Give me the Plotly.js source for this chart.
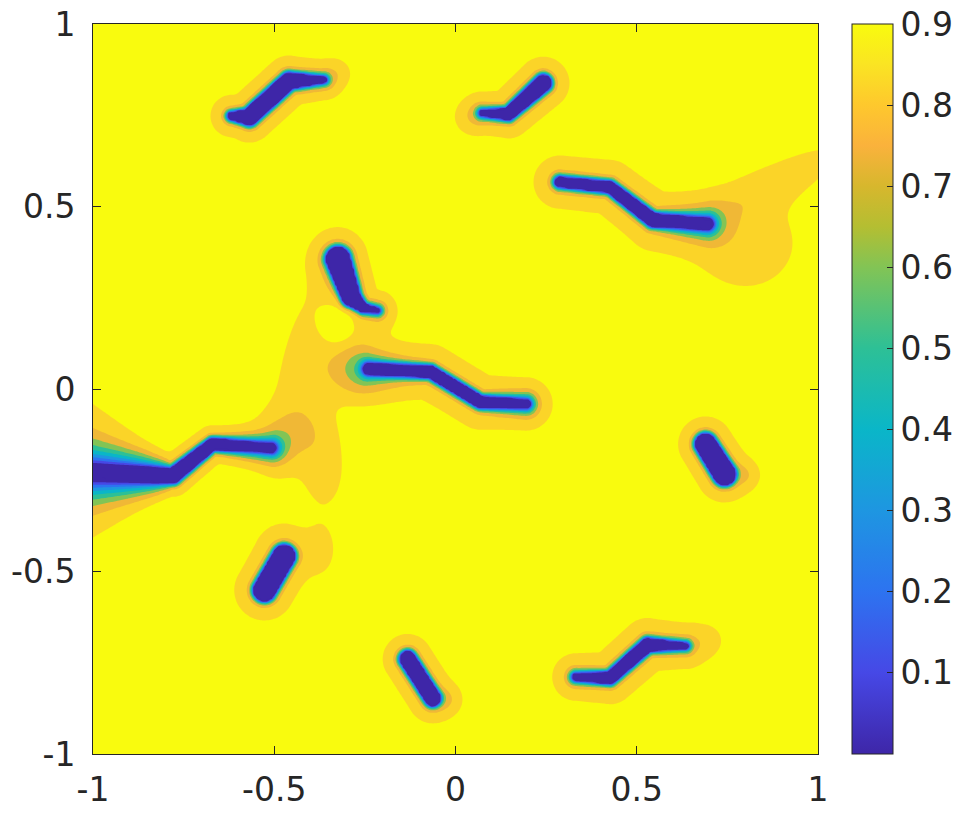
<!DOCTYPE html>
<html><head><meta charset="utf-8">
<script src="https://cdn.plot.ly/plotly-3.0.1.min.js"></script>
<style>html,body{margin:0;padding:0;background:#fff}</style>
</head><body><div id="plot" style="width:972px;height:819px"></div>
<script>
// ---- crack centre-lines (data units) ----
const crackX = [
  [-0.618,-0.569,-0.459,-0.363],
  [0.074,0.146,0.242],
  [0.288,0.426,0.544,0.695],
  [-0.324,-0.288,-0.255,-0.215],
  [-0.239,-0.069,0.069,0.195],
  [0.690,0.742],
  [-1.022,-0.780,-0.670,-0.508],
  [-0.473,-0.527],
  [-0.132,-0.063],
  [0.332,0.426,0.530,0.635]
];
const crackY = [
  [0.748,0.745,0.844,0.847],
  [0.756,0.753,0.838],
  [0.567,0.553,0.463,0.452],
  [0.356,0.252,0.222,0.215],
  [0.055,0.047,-0.036,-0.041],
  [-0.151,-0.233],
  [-0.228,-0.238,-0.151,-0.162],
  [-0.458,-0.551],
  [-0.740,-0.847],
  [-0.789,-0.792,-0.701,-0.704]
];
// half width of the fully damaged core
const crackW = [
  [0.010,0.022,0.022,0.007],
  [0.007,0.016,0.022],
  [0.013,0.015,0.018,0.012],
  [0.032,0.025,0.012,0.006],
  [0.012,0.016,0.016,0.010],
  [0.028,0.030],
  [0.014,0.020,0.016,0.009],
  [0.030,0.030],
  [0.021,0.021],
  [0.009,0.016,0.018,0.007]
];
// transition length of the phase field
const crackL = [
  [0.006,0.006,0.006,0.008],
  [0.008,0.006,0.006],
  [0.007,0.006,0.006,0.014],
  [0.007,0.006,0.006,0.008],
  [0.010,0.006,0.006,0.012],
  [0.006,0.006],
  [0.062,0.007,0.006,0.016],
  [0.006,0.006],
  [0.006,0.006],
  [0.008,0.006,0.006,0.008]
];
const haloA = [0.12,0.12,0.12,0.12,0.12,0.12,0.08,0.12,0.12,0.12];
const haloS = [0.036,0.038,0.045,0.036,0.045,0.036,0.035,0.040,0.036,0.042];
// broad low-damage regions and local bulges
const plumeX   = [0.80, 0.88, -0.41, -0.29, -0.327, -0.36, -0.25, -0.37, -0.45, 0.805, -0.019, 0.70, 0.036, -0.321];
const plumeY   = [0.40, 0.56,  0.05,  0.08,  0.184, -0.22,  0.04, -0.44, -0.12, -0.236, -0.852, -0.688, 0.742, 0.868];
const plumeSX  = [0.11, 0.16,  0.06,  0.05,  0.035,  0.04,  0.07,  0.03,  0.06, 0.025, 0.025, 0.03, 0.03, 0.025];
const plumeSY  = [0.10, 0.04,  0.20,  0.06,  0.045,  0.08,  0.05,  0.05,  0.05, 0.025, 0.025, 0.03, 0.03, 0.025];
const plumeAng = [0,    27,   -12,    0,     0,      0,     0,     0,     0,    0,     0,     0,    0,    0];
const plumeA   = [0.10, 0.10,  0.10,  0.09, -0.16,   0.09,  0.12,  0.08,  0.12, 0.08,  0.07,  0.07, 0.06, 0.06];
const background = 0.95;

const levels = [0,0.1,0.2,0.3,0.4,0.5,0.6,0.7,0.8,0.9];
const bandColors = ['rgb(62,38,168)','rgb(70,72,230)','rgb(45,115,240)','rgb(30,150,225)',
  'rgb(10,182,200)','rgb(45,192,150)','rgb(130,196,85)','rgb(240,184,54)','rgb(251,212,40)','rgb(249,251,14)'];
const parulaStops = [0,0.1,0.2,0.3,0.4,0.5,0.6,0.65,0.7,0.75,0.8,0.85,0.9];
const parulaColors = ['rgb(62,38,168)','rgb(70,72,230)','rgb(45,115,240)','rgb(30,150,225)',
  'rgb(10,182,200)','rgb(45,192,150)','rgb(130,196,85)','rgb(180,190,50)','rgb(215,183,45)',
  'rgb(250,178,60)','rgb(254,200,45)','rgb(250,228,35)','rgb(249,251,14)'];
const cbTicks = [0.1,0.2,0.3,0.4,0.5,0.6,0.7,0.8,0.9];
const axTicks = [-1,-0.5,0,0.5,1];
const axTickText = ['-1','-0.5','0','0.5','1'];

// ---- build field ----
const N = 321;
const gx = [], gy = [];
for (let i = 0; i < N; i++) { gx.push(-1 + 2*i/(N-1)); gy.push(-1 + 2*i/(N-1)); }
const Z = [];
for (let j = 0; j < N; j++) {
  const y = gy[j]; const row = [];
  for (let i = 0; i < N; i++) {
    const x = gx[i];
    let zc = background, red = 0;
    for (let c = 0; c < crackX.length; c++) {
      const X = crackX[c], Y = crackY[c], W = crackW[c], L = crackL[c];
      let best = Infinity, bestD = Infinity;
      for (let s = 0; s < X.length - 1; s++) {
        const ax = X[s], ay = Y[s], dx = X[s+1]-ax, dy = Y[s+1]-ay;
        let t = ((x-ax)*dx + (y-ay)*dy) / (dx*dx + dy*dy);
        t = Math.max(0, Math.min(1, t));
        const dist = Math.hypot(x - (ax + t*dx), y - (ay + t*dy));
        const w = W[s] + t*(W[s+1]-W[s]);
        const lam = L[s] + t*(L[s+1]-L[s]);
        const d = Math.max(dist - w, 0);
        if (d/lam < best) best = d/lam;
        if (d < bestD) bestD = d;
      }
      const z = background*(1 - Math.exp(-best));
      if (z < zc) zc = z;
      red += haloA[c]*Math.exp(-0.5*Math.pow(bestD/haloS[c], 2));
    }
    for (let p = 0; p < plumeX.length; p++) {
      const a = plumeAng[p]*Math.PI/180;
      const dx = x - plumeX[p], dy = y - plumeY[p];
      const u = dx*Math.cos(a) + dy*Math.sin(a);
      const v = -dx*Math.sin(a) + dy*Math.cos(a);
      red += plumeA[p]*Math.exp(-0.5*(u*u/(plumeSX[p]*plumeSX[p]) + v*v/(plumeSY[p]*plumeSY[p])));
    }
    row.push(Math.max(0, Math.min(background, zc - red)));
  }
  Z.push(row);
}

// step colour scale, strictly increasing stops (plotly samples each band at level+size/2)
const bandScale = [[0, bandColors[0]]];
for (let k = 0; k < levels.length; k++) {
  if (k > 0) bandScale.push([Math.round((0.05 + 0.1*k + 0.001)*10000)/10000, bandColors[k]]);
  const hi = k === levels.length-1 ? 1 : Math.round((0.15 + 0.1*k)*10000)/10000;
  bandScale.push([hi, bandColors[k]]);
}

const smoothScale = parulaStops.map((s, k) => [Math.round(s/0.9*10000)/10000, parulaColors[k]]);
smoothScale[smoothScale.length-1][0] = 1;

const fontC = '#262626';
const fontF = 'DejaVu Sans, Liberation Sans, sans-serif';
const traces = [
  {type:'contour', x:gx, y:gy, z:Z, autocontour:false, autocolorscale:false,
   contours:{start:0, end:0.9, size:0.1, coloring:'fill', showlines:false},
   line:{width:0}, colorscale:bandScale, showscale:false, hoverinfo:'skip'},
  {type:'heatmap', x:[5,6], y:[5,6], z:[[0,0.3],[0.6,0.9]], zmin:0, zmax:0.9,
   colorscale:smoothScale, showscale:true, hoverinfo:'skip',
   colorbar:{x:(855-93)/728, xanchor:'left', y:0.5, yanchor:'middle', len:1, lenmode:'fraction',
     thickness:41, thicknessmode:'pixels', xpad:0, ypad:0, outlinecolor:fontC, outlinewidth:1,
     tickmode:'array', tickvals:cbTicks, ticktext:cbTicks.map(String), ticks:'inside', ticklen:6,
     tickcolor:fontC, tickfont:{family:fontF, size:33, color:fontC}}}
];
const axisCommon = {range:[-1,1], tickmode:'array', tickvals:axTicks, ticktext:axTickText,
  ticks:'inside', ticklen:8, tickcolor:fontC, showline:true, linecolor:fontC, linewidth:1, mirror:'ticks',
  showgrid:false, zeroline:false, tickfont:{family:fontF, size:33, color:fontC}};
const layout = {
  width:972, height:819, margin:{l:93, r:151, t:24, b:65},
  paper_bgcolor:'#ffffff', plot_bgcolor:'rgb(249,251,14)', showlegend:false,
  xaxis:Object.assign({}, axisCommon, {ticklabelstandoff:6}),
  yaxis:Object.assign({}, axisCommon, {ticklabelstandoff:10})
};
Plotly.newPlot('plot', traces, layout, {staticPlot:true});
</script></body></html>
